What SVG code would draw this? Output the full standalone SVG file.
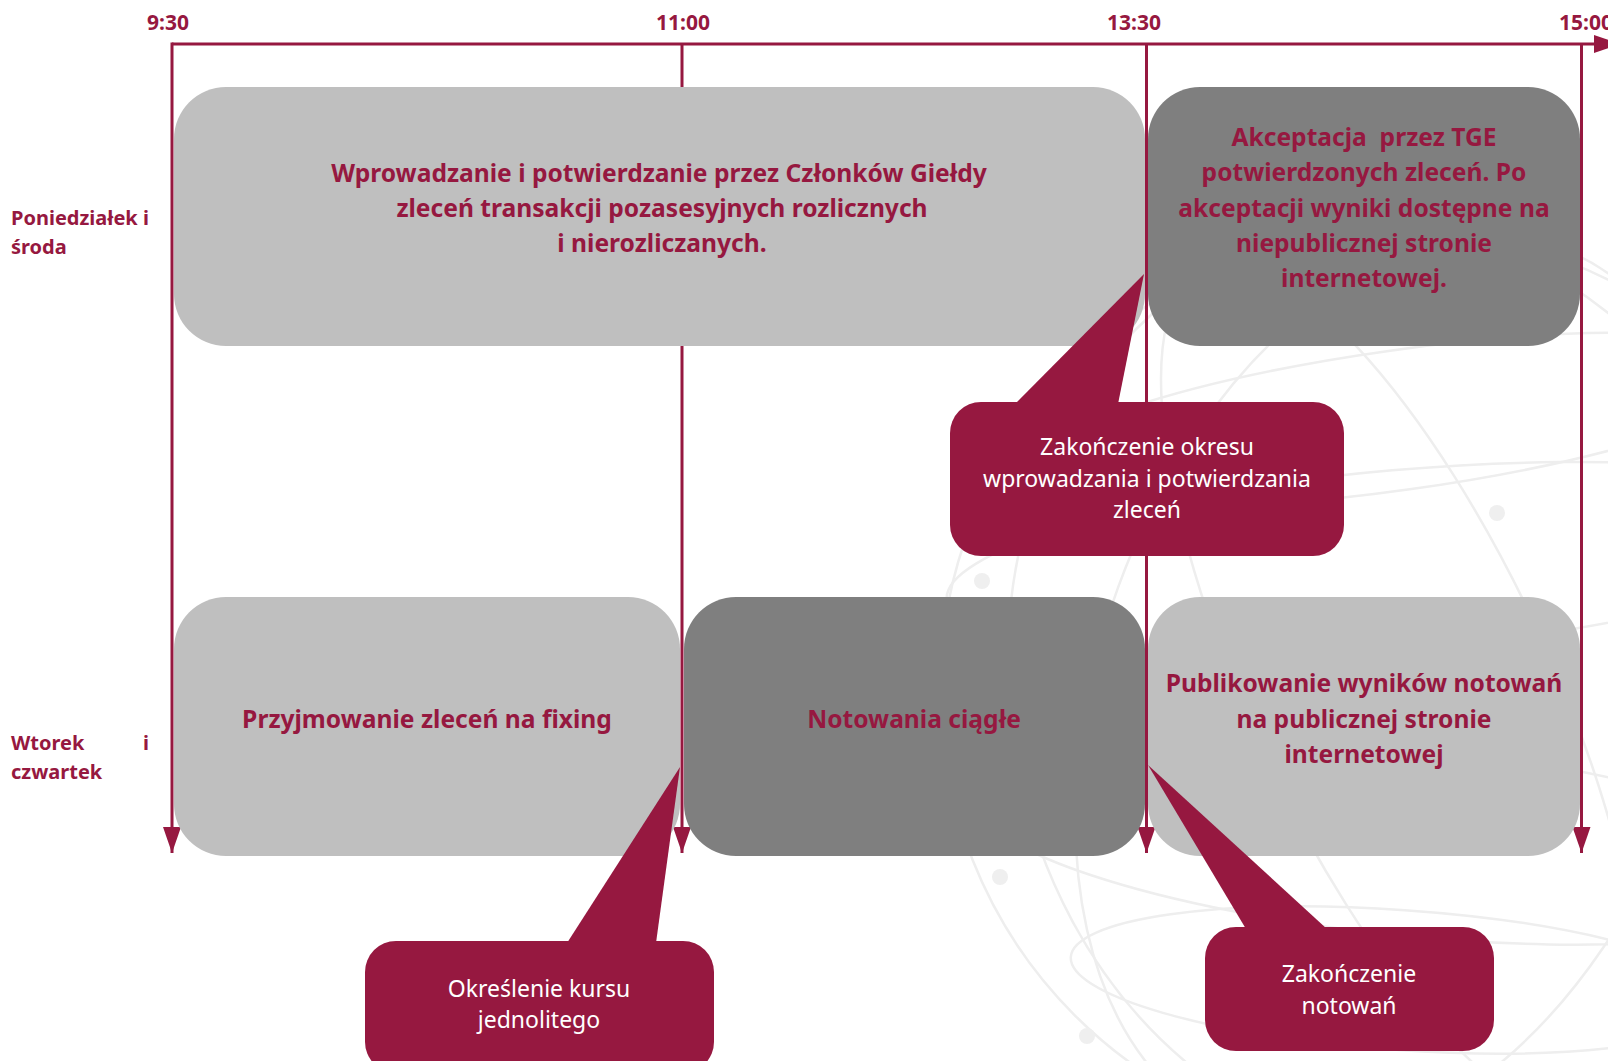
<svg xmlns="http://www.w3.org/2000/svg" width="1608" height="1061" viewBox="0 0 1608 1061">
<style>
.bg{fill:none;stroke:#EEEEEE;stroke-width:2.5}
.dot{fill:#EFEFEF}
.tl{stroke:#961840;stroke-width:3;fill:none}
.light{fill:#BFBFBF}
.dark{fill:#7F7F7F}
.call{fill:#961840}
.bt{font-family:"Noto Sans","Open Sans",sans-serif;font-weight:bold;fill:#961840;text-anchor:middle;font-size:24.6px}
.ct{font-family:"Noto Sans","Open Sans",sans-serif;fill:#FFFFFF;text-anchor:middle;font-size:23px}
.lab{font-family:"Noto Sans","Open Sans",sans-serif;font-weight:bold;fill:#961840;font-size:20px}
.time{font-family:"Noto Sans","Open Sans",sans-serif;font-weight:bold;fill:#961840;font-size:21px;text-anchor:middle}
</style>
<defs>
<marker id="arr" markerUnits="userSpaceOnUse" markerWidth="26" markerHeight="18" refX="26" refY="9" orient="auto">
<path d="M0,0 L26,9 L0,18 Z" fill="#961840"/>
</marker>
<clipPath id="globeclip"><rect x="930" y="150" width="678" height="911"/></clipPath>
</defs>
<rect x="0" y="0" width="1608" height="1061" fill="#FFFFFF"/>
<g id="background" clip-path="url(#globeclip)">
<circle class="bg" cx="1400" cy="690" r="460"/>
<ellipse class="bg" cx="1400" cy="690" rx="300" ry="470" transform="rotate(20 1400 690)"/>
<ellipse class="bg" cx="1400" cy="690" rx="150" ry="465" transform="rotate(-25 1400 690)"/>
<ellipse class="bg" cx="1400" cy="690" rx="390" ry="465" transform="rotate(-10 1400 690)"/>
<ellipse class="bg" cx="1400" cy="560" rx="455" ry="90" transform="rotate(-5 1400 560)"/>
<ellipse class="bg" cx="1400" cy="840" rx="430" ry="95" transform="rotate(6 1400 840)"/>
<ellipse class="bg" cx="1400" cy="420" rx="380" ry="70" transform="rotate(-8 1400 420)"/>
<ellipse class="bg" cx="1400" cy="980" rx="330" ry="70" transform="rotate(4 1400 980)"/>
<circle class="dot" cx="982" cy="581" r="8"/>
<circle class="dot" cx="1000" cy="877" r="8"/>
<circle class="dot" cx="1087" cy="1036" r="8"/>
<circle class="dot" cx="1497" cy="513" r="8"/>
</g>
<g id="connectors">
<line class="tl" x1="172" y1="44" x2="1620" y2="44" marker-end="url(#arr)"/>
<line class="tl" x1="172" y1="42.5" x2="172" y2="853" marker-end="url(#arr)"/>
<line class="tl" x1="682" y1="44" x2="682" y2="853" marker-end="url(#arr)"/>
<line class="tl" x1="1146.5" y1="44" x2="1146.5" y2="853" marker-end="url(#arr)"/>
<line class="tl" x1="1581.5" y1="44" x2="1581.5" y2="853" marker-end="url(#arr)"/>
</g>
<g id="time-labels">
<text class="time" x="168" y="30">9:30</text>
<text class="time" x="683" y="30">11:00</text>
<text class="time" x="1134" y="30">13:30</text>
<text class="time" x="1586" y="30">15:00</text>
</g>
<g id="row-labels">
<text class="lab" x="11" y="225">Poniedziałek i</text>
<text class="lab" x="11" y="254">środa</text>
<text class="lab" x="11" y="750">Wtorek</text>
<text class="lab" x="143" y="750">i</text>
<text class="lab" x="11" y="779">czwartek</text>
</g>
<g id="box-entry">
<rect class="light" x="174" y="87" width="971" height="259" rx="52"/>
<text class="bt" x="659" y="182">Wprowadzanie i potwierdzanie przez Członków Giełdy</text>
<text class="bt" x="662" y="217">zleceń transakcji pozasesyjnych rozlicznych</text>
<text class="bt" x="662" y="252">i nierozliczanych.</text>
</g>
<g id="box-acceptance">
<rect class="dark" x="1148" y="87" width="432" height="259" rx="52"/>
<text class="bt" x="1364" y="146" style="white-space:pre">Akceptacja  przez TGE</text>
<text class="bt" x="1364" y="181">potwierdzonych zleceń. Po</text>
<text class="bt" x="1364" y="217">akceptacji wyniki dostępne na</text>
<text class="bt" x="1364" y="252">niepublicznej stronie</text>
<text class="bt" x="1364" y="287">internetowej.</text>
</g>
<g id="box-fixing">
<rect class="light" x="174" y="597" width="506" height="259" rx="52"/>
<text class="bt" x="427" y="728">Przyjmowanie zleceń na fixing</text>
</g>
<g id="box-continuous">
<rect class="dark" x="684" y="597" width="461" height="259" rx="52"/>
<text class="bt" x="914" y="728">Notowania ciągłe</text>
</g>
<g id="box-publish">
<rect class="light" x="1148" y="597" width="432" height="259" rx="52"/>
<text class="bt" x="1364" y="692">Publikowanie wyników notowań</text>
<text class="bt" x="1364" y="728">na publicznej stronie</text>
<text class="bt" x="1364" y="763">internetowej</text>
</g>
<g id="callout-end-entry">
<polygon class="call" points="1015,404 1144,274 1118,404"/>
<rect class="call" x="950" y="402" width="394" height="154" rx="31"/>
<text class="ct" x="1147" y="455">Zakończenie okresu</text>
<text class="ct" x="1147" y="487">wprowadzania i potwierdzania</text>
<text class="ct" x="1147" y="518">zleceń</text>
</g>
<g id="callout-fixing-price">
<polygon class="call" points="567,943 680,767 656,943"/>
<rect class="call" x="365" y="941" width="349" height="132" rx="31"/>
<text class="ct" x="539" y="997">Określenie kursu</text>
<text class="ct" x="539" y="1028">jednolitego</text>
</g>
<g id="callout-end-trading">
<polygon class="call" points="1246,929 1148,765 1327,929"/>
<rect class="call" x="1205" y="927" width="289" height="124" rx="31"/>
<text class="ct" x="1349" y="982">Zakończenie</text>
<text class="ct" x="1349" y="1014">notowań</text>
</g>
</svg>
